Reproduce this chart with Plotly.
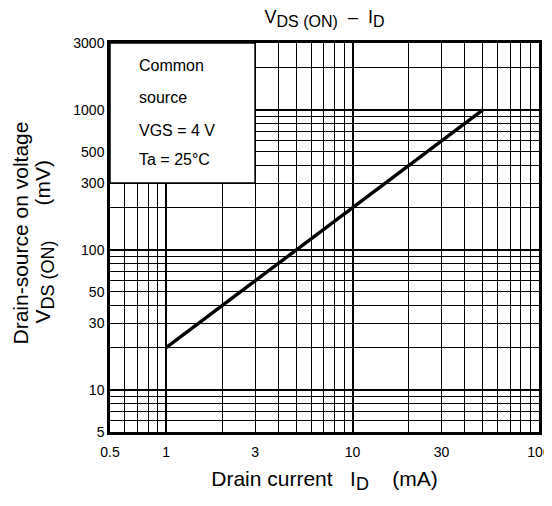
import math
import plotly.graph_objects as go

# ---- data ----
drain_current_mA = [1, 50]
vds_on_mV = [20, 1000]

x_tick_vals = [0.5, 1, 3, 10, 30, 100]
x_tick_text = ["0.5", "1", "3", "10", "30", "100"]
y_tick_vals = [5, 10, 30, 50, 100, 300, 500, 1000, 3000]
y_tick_text = ["5", "10", "30", "50", "100", "300", "500", "1000", "3000"]

x_grid = [0.6, 0.7, 0.8, 0.9, 1, 2, 3, 4, 5, 6, 7, 8, 9, 10,
          20, 30, 40, 50, 60, 70, 80, 90]
y_grid = [6, 7, 8, 9, 10, 20, 30, 40, 50, 60, 70, 80, 90,
          100, 200, 300, 400, 500, 600, 700, 800, 900, 1000, 2000]
x_major = [1, 10]
y_major = [10, 100, 1000]

box_lines = ["Common", "source", "VGS = 4 V", "Ta = 25°C"]

x_range = [math.log10(0.5), math.log10(100)]
y_range = [math.log10(5), math.log10(3000)]

FONT = "Liberation Sans, Arial, sans-serif"
NB = "\u00a0"

def sub(t, px):
    return '<sub><span style="font-size:%dpx">%s</span></sub>' % (px, t)

OFF = 8                 # the page adds an 8 px body margin
W, H = 544, 486
L, R, T, B = 102, 13, 35, 62
PW, PH = W - L - R, H - T - B

def px_x(page_x):       # page pixel -> paper x
    return (page_x - OFF - L) / PW

def px_y(page_y):       # page pixel -> paper y
    return (T + PH - (page_y - OFF)) / PH

fig = go.Figure()
fig.add_trace(go.Scatter(x=drain_current_mA, y=vds_on_mV, mode="lines",
                         line=dict(color="black", width=3.4), showlegend=False,
                         hoverinfo="skip"))
# empty trace to create the overlay subplot carrying the grid
fig.add_trace(go.Scatter(x=[], y=[], xaxis="x2", yaxis="y2", showlegend=False,
                         hoverinfo="skip"))

grid_common = dict(showticklabels=False, ticks="", showgrid=True, gridcolor="black",
                   gridwidth=2, zeroline=False, showline=False, automargin=False)

fig.update_layout(
    width=W, height=H,
    margin=dict(l=L, r=R, t=T, b=B, autoexpand=False),
    paper_bgcolor="white", plot_bgcolor="white",
    font=dict(family=FONT, size=14, color="black"),
    title=dict(text="V" + sub("DS (ON)", 16) + NB * 2 + "–" + NB * 2 + "I" + sub("D", 16),
               x=0.5, xref="paper", xanchor="center", y=1 - 9 / H, yref="container",
               yanchor="middle", font=dict(family=FONT, size=18, color="black")),
    xaxis=dict(type="log", range=x_range, tickmode="array", tickvals=x_tick_vals,
               ticktext=x_tick_text, ticks="", showgrid=False,
               showline=True, linecolor="black", linewidth=2.5,
               mirror=True, zeroline=False, tickfont=dict(size=14), automargin=False,
               ticklabelstandoff=5, ticklabeloverflow="allow",
               title=dict(text="Drain current" + NB * 3 + "I" + sub("D", 18) + NB * 4 + "(mA)",
                          font=dict(size=21), standoff=14)),
    yaxis=dict(type="log", range=y_range, tickmode="array", tickvals=y_tick_vals,
               ticktext=y_tick_text, ticks="", showgrid=False,
               showline=True, linecolor="black", linewidth=2.5,
               mirror=True, zeroline=False, tickfont=dict(size=14), automargin=False,
               ticklabeloverflow="allow"),
    xaxis2=dict(type="log", range=x_range, overlaying="x", anchor="y2",
                tickmode="array", tickvals=x_major,
                minor=dict(tickmode="array", tickvals=x_grid, showgrid=True,
                           gridcolor="black", gridwidth=1, ticks=""),
                **grid_common),
    yaxis2=dict(type="log", range=y_range, overlaying="y", anchor="x2",
                tickmode="array", tickvals=y_major,
                minor=dict(tickmode="array", tickvals=y_grid, showgrid=True,
                           gridcolor="black", gridwidth=1, ticks=""),
                **grid_common),
)

# y-axis title, two rotated lines
fig.add_annotation(text="Drain-source on voltage", xref="paper", yref="paper",
                   x=px_x(19.5), y=px_y(233), textangle=-90, xanchor="center",
                   yanchor="middle", showarrow=False,
                   font=dict(family=FONT, size=21, color="black"))
fig.add_annotation(text="V" + sub("DS (ON)", 18) + NB * 6 + "(mV)", xref="paper", yref="paper",
                   x=px_x(43.5), y=px_y(242), textangle=-90, xanchor="center",
                   yanchor="middle", showarrow=False,
                   font=dict(family=FONT, size=21, color="black"))

# condition box (covers the grid in the upper-left corner: 0.5–3 mA, 300–3000 mV)
bx1 = (math.log10(3) - x_range[0]) / (x_range[1] - x_range[0])
by0 = (math.log10(300) - y_range[0]) / (y_range[1] - y_range[0])
fig.add_shape(type="rect", xref="x domain", yref="y domain", x0=0, x1=bx1, y0=by0, y1=1,
              fillcolor="white", line=dict(color="black", width=1.5), layer="above")

line_y = [0.941, 0.859, 0.776, 0.700]
for txt, yy in zip(box_lines, line_y):
    fig.add_annotation(text=txt, xref="paper", yref="paper", x=0.063, y=yy,
                       xanchor="left", yanchor="middle", showarrow=False,
                       font=dict(family=FONT, size=16, color="black"))

fig.write_html("out.html")
